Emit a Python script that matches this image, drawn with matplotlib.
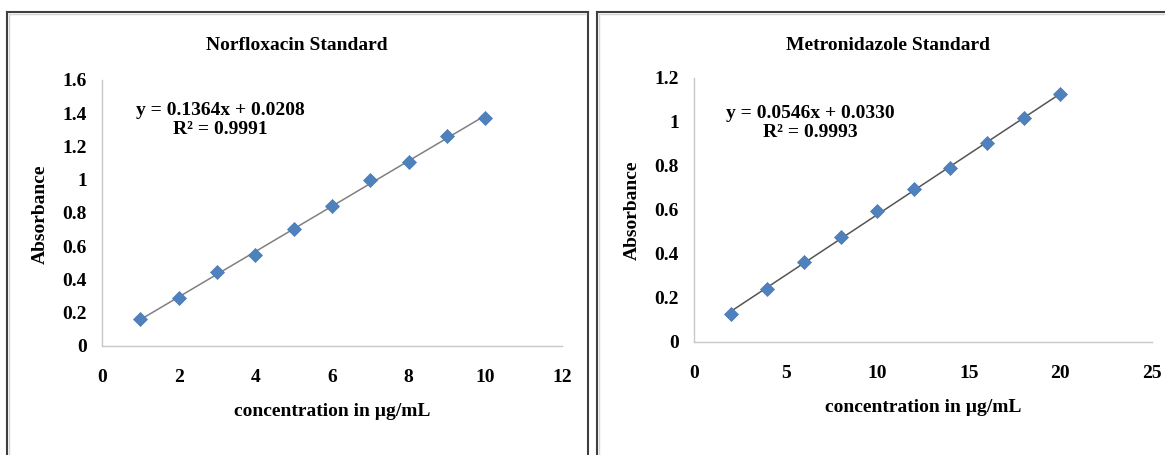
import numpy as np
import matplotlib
matplotlib.use("Agg")
import matplotlib.pyplot as plt
from matplotlib.lines import Line2D

# ---------------- data ----------------
norf_conc = [1, 2, 3, 4, 5, 6, 7, 8, 9, 10]
norf_abs = [0.162, 0.288, 0.447, 0.545, 0.703, 0.841, 0.997, 1.105, 1.263, 1.374]
norf_xticks = [0, 2, 4, 6, 8, 10, 12]
norf_yticks = [0, 0.2, 0.4, 0.6, 0.8, 1.0, 1.2, 1.4, 1.6]
norf_ylabels = ["0", "0.2", "0.4", "0.6", "0.8", "1", "1.2", "1.4", "1.6"]
norf_eq = "y = 0.1364x + 0.0208\nR\u00b2 = 0.9991"
norf_title = "Norfloxacin Standard"

metr_conc = [2, 4, 6, 8, 10, 12, 14, 16, 18, 20]
metr_abs = [0.126, 0.240, 0.365, 0.479, 0.597, 0.695, 0.790, 0.903, 1.017, 1.126]
metr_xticks = [0, 5, 10, 15, 20, 25]
metr_yticks = [0, 0.2, 0.4, 0.6, 0.8, 1.0, 1.2]
metr_ylabels = ["0", "0.2", "0.4", "0.6", "0.8", "1", "1.2"]
metr_eq = "y = 0.0546x + 0.0330\nR\u00b2 = 0.9993"
metr_title = "Metronidazole Standard"

xlabel = "concentration in \u00b5g/mL"
ylabel = "Absorbance"

# ---------------- figure ----------------
W, H = 1165, 455
fig = plt.figure(figsize=(W / 100, H / 100), dpi=100)
fig.patch.set_facecolor("white")
FONT = "Liberation Serif"
FS = 14


def fx(px):
    return px / W


def fy(py):
    return 1 - py / H


def border(x0, x1, y0):
    c = "#3f3f3f"
    fig.add_artist(Line2D([fx(x0), fx(x0)], [fy(y0), fy(H + 5)], color=c, lw=1.5,
                          transform=fig.transFigure))
    fig.add_artist(Line2D([fx(x0), fx(x1)], [fy(y0), fy(y0)], color=c, lw=1.5,
                          transform=fig.transFigure))
    fig.add_artist(Line2D([fx(x1), fx(x1)], [fy(y0), fy(H + 5)], color=c, lw=1.5,
                          transform=fig.transFigure))
    s = "#d4d4d4"
    fig.add_artist(Line2D([fx(x0 + 2), fx(x0 + 2)], [fy(y0 + 2), fy(H + 5)], color=s, lw=1.0,
                          transform=fig.transFigure))
    fig.add_artist(Line2D([fx(x0 + 2), fx(x1 - 2)], [fy(y0 + 2), fy(y0 + 2)], color=s, lw=1.0,
                          transform=fig.transFigure))


border(7, 588, 12)
border(597, 1175, 12)


def panel(rect_px, conc, absb, xticks, yticks, ylabels, xmax, ymax, eq, eq_pos, title,
          title_pos, xlab_pos, ylab_pos, line_color):
    x0, x1, y0, y1 = rect_px  # left, right, y of 0, y of max (pixels)
    ax = fig.add_axes([fx(x0), fy(y0), (x1 - x0) / W, (y0 - y1) / H])
    ax.set_xlim(0, xmax)
    ax.set_ylim(0, ymax)
    for s in ["top", "right"]:
        ax.spines[s].set_visible(False)
    for s in ["left", "bottom"]:
        ax.spines[s].set_color("#c8c8c8")
        ax.spines[s].set_linewidth(1.0)
    ax.set_xticks(xticks)
    ax.set_xticklabels([str(t) for t in xticks])
    ax.set_yticks(yticks)
    ax.set_yticklabels(ylabels)
    ax.tick_params(axis="both", length=0, labelsize=FS)
    ax.tick_params(axis="x", pad=16.5)
    ax.tick_params(axis="y", pad=11)
    for lab in ax.get_xticklabels() + ax.get_yticklabels():
        lab.set_fontfamily(FONT)
        lab.set_fontweight("bold")
    ax.patch.set_alpha(0)

    c = np.asarray(conc, float)
    a = np.asarray(absb, float)
    m, b = np.polyfit(c, a, 1)
    xl = np.array([c.min(), c.max()])
    ax.plot(xl, m * xl + b, color=line_color, lw=1.1, zorder=2)
    ax.plot(c, a, linestyle="none", marker="D", ms=7, color="#4f81bd",
            markeredgecolor="#4a7ab5", markeredgewidth=0.5, zorder=3, clip_on=False)

    ax.text(eq_pos[0], eq_pos[1], eq, ha="center", va="center", fontsize=FS,
            fontfamily=FONT, fontweight="bold", linespacing=1.1)

    fig.text(fx(title_pos[0]), fy(title_pos[1]), title, ha="center", va="center",
             fontsize=FS, fontfamily=FONT, fontweight="bold")
    fig.text(fx(xlab_pos[0]), fy(xlab_pos[1]), xlabel, ha="center", va="center",
             fontsize=FS, fontfamily=FONT, fontweight="bold")
    fig.text(fx(ylab_pos[0]), fy(ylab_pos[1]), ylabel, ha="center", va="center",
             rotation=90, fontsize=FS, fontfamily=FONT, fontweight="bold")
    return ax


panel((102, 562, 346, 80), norf_conc, norf_abs, norf_xticks, norf_yticks, norf_ylabels,
      12, 1.6, norf_eq, (3.08, 1.36), norf_title, (297, 46), (332, 411), (40, 214),
      "#808080")

panel((694, 1152, 342, 78), metr_conc, metr_abs, metr_xticks, metr_yticks, metr_ylabels,
      25, 1.2, metr_eq, (6.33, 0.995), metr_title, (888, 46), (923, 407), (632, 210),
      "#555555")

fig.savefig("out.png", dpi=100, facecolor="white")
